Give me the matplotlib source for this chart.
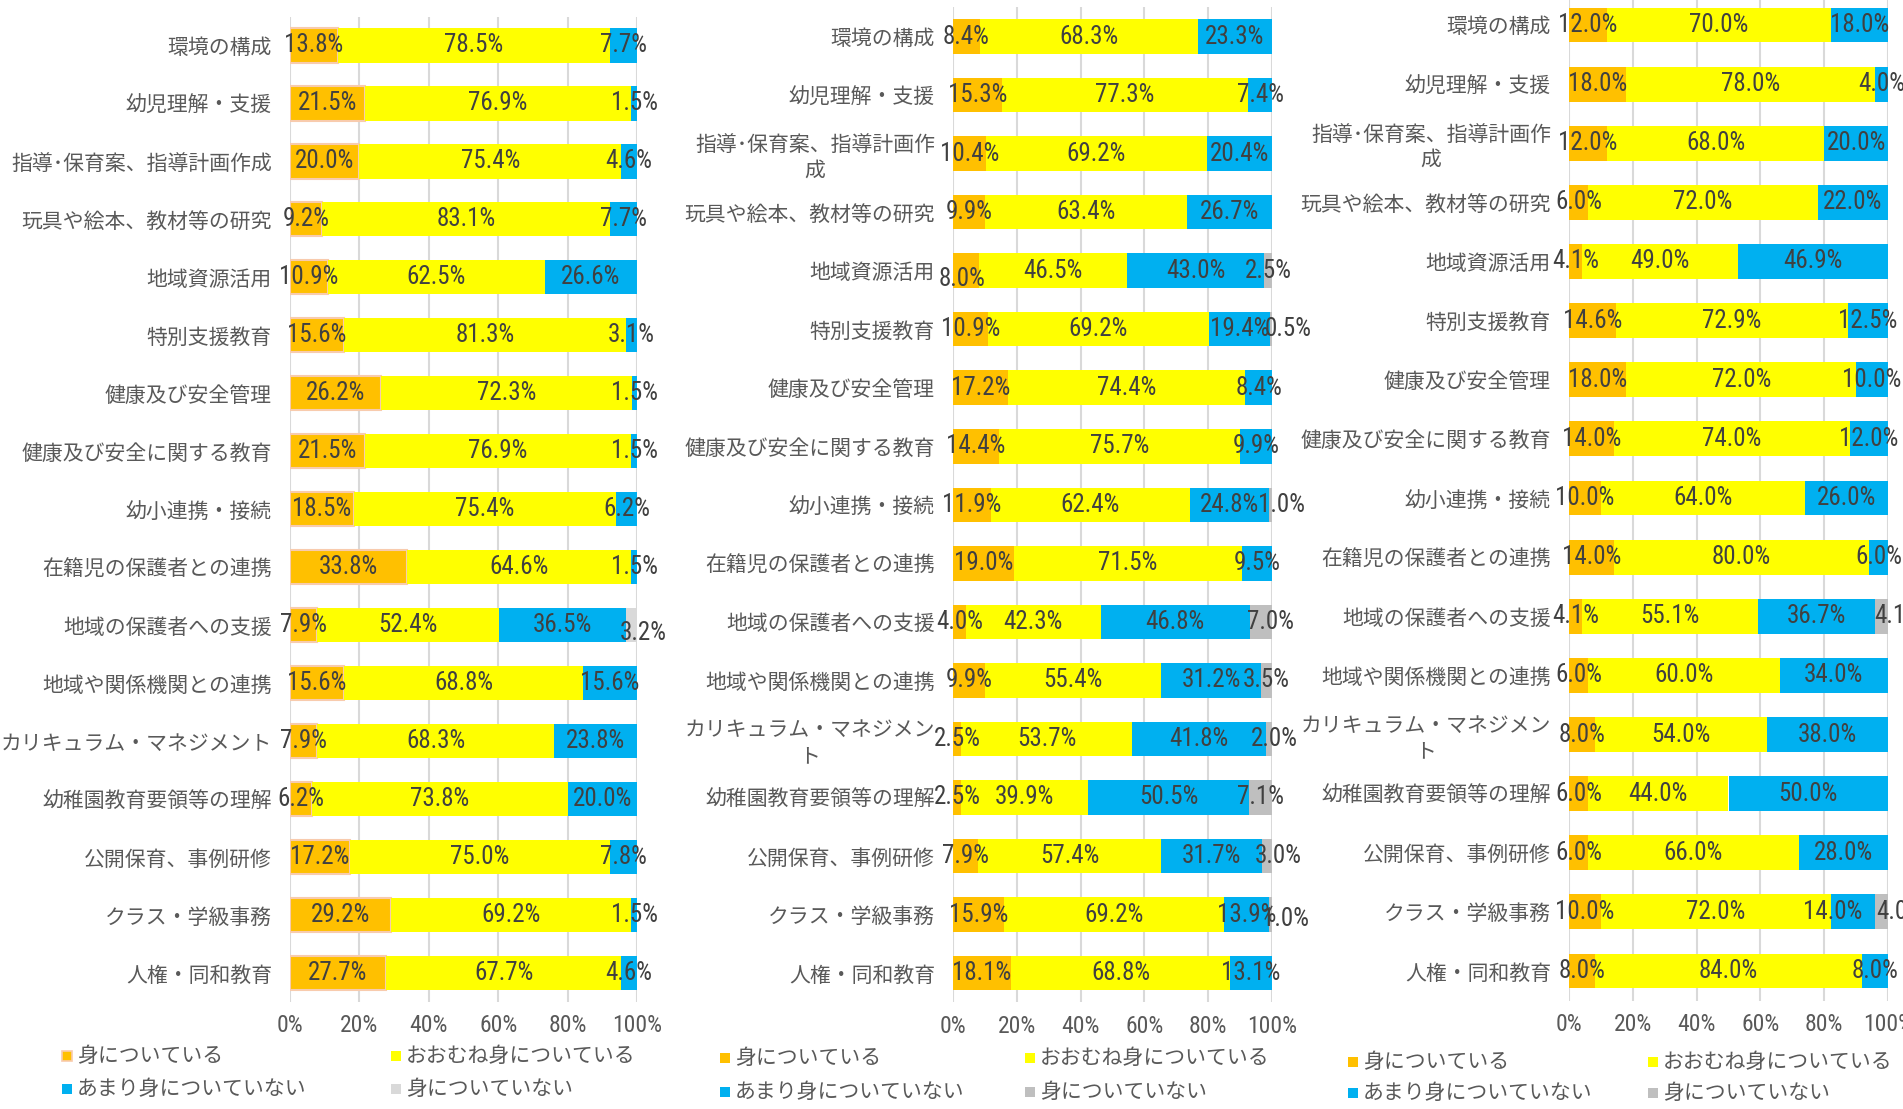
import matplotlib
matplotlib.use("Agg")
import matplotlib.pyplot as plt
from matplotlib import font_manager
from matplotlib.patches import Rectangle

plt.rcParams['font.family'] = ['Noto Sans CJK JP', 'DejaVu Sans']

# categories (panel 1 on one line, panels 2/3 wrap two long labels)
categories = ['環境の構成', '幼児理解・支援', '指導･保育案、指導計画作成', '玩具や絵本、教材等の研究',
              '地域資源活用', '特別支援教育', '健康及び安全管理', '健康及び安全に関する教育',
              '幼小連携・接続', '在籍児の保護者との連携', '地域の保護者への支援', '地域や関係機関との連携',
              'カリキュラム・マネジメント', '幼稚園教育要領等の理解', '公開保育、事例研修',
              'クラス・学級事務', '人権・同和教育']
categories_wrapped = [c.replace('指導計画作成', '指導計画作\n成').replace('マネジメント', 'マネジメン\nト')
                      for c in categories]
series_names = ['身についている', 'おおむね身についている', 'あまり身についていない', '身についていない']

# panel 1
p1_good = [13.8, 21.5, 20.0, 9.2, 10.9, 15.6, 26.2, 21.5, 18.5, 33.8, 7.9, 15.6, 7.9, 6.2, 17.2, 29.2, 27.7]
p1_mostly = [78.5, 76.9, 75.4, 83.1, 62.5, 81.3, 72.3, 76.9, 75.4, 64.6, 52.4, 68.8, 68.3, 73.8, 75.0, 69.2, 67.7]
p1_little = [7.7, 1.5, 4.6, 7.7, 26.6, 3.1, 1.5, 1.5, 6.2, 1.5, 36.5, 15.6, 23.8, 20.0, 7.8, 1.5, 4.6]
p1_none = [0, 0, 0, 0, 0, 0, 0, 0, 0, 0, 3.2, 0, 0, 0, 0, 0, 0]

# panel 2
p2_good = [8.4, 15.3, 10.4, 9.9, 8.0, 10.9, 17.2, 14.4, 11.9, 19.0, 4.0, 9.9, 2.5, 2.5, 7.9, 15.9, 18.1]
p2_mostly = [68.3, 77.3, 69.2, 63.4, 46.5, 69.2, 74.4, 75.7, 62.4, 71.5, 42.3, 55.4, 53.7, 39.9, 57.4, 69.2, 68.8]
p2_little = [23.3, 7.4, 20.4, 26.7, 43.0, 19.4, 8.4, 9.9, 24.8, 9.5, 46.8, 31.2, 41.8, 50.5, 31.7, 13.9, 13.1]
p2_none = [0, 0, 0, 0, 2.5, 0.5, 0, 0, 1.0, 0, 7.0, 3.5, 2.0, 7.1, 3.0, 1.0, 0]

# panel 3
p3_good = [12.0, 18.0, 12.0, 6.0, 4.1, 14.6, 18.0, 14.0, 10.0, 14.0, 4.1, 6.0, 8.0, 6.0, 6.0, 10.0, 8.0]
p3_mostly = [70.0, 78.0, 68.0, 72.0, 49.0, 72.9, 72.0, 74.0, 64.0, 80.0, 55.1, 60.0, 54.0, 44.0, 66.0, 72.0, 84.0]
p3_little = [18.0, 4.0, 20.0, 22.0, 46.9, 12.5, 10.0, 12.0, 26.0, 6.0, 36.7, 34.0, 38.0, 50.0, 28.0, 14.0, 8.0]
p3_none = [0, 0, 0, 0, 0, 0, 0, 0, 0, 0, 4.1, 0, 0, 0, 0, 4.0, 0]

W, H = 1903, 1109
fig = plt.figure(figsize=(W / 100, H / 100), dpi=100)

# narrow font for the numbers, whichever is installed
fonts = font_manager.fontManager.ttflist
names = {f.name for f in fonts}
if 'Liberation Sans Narrow' in names:
    num_font, tick_size = dict(family='Liberation Sans Narrow', size=17), 17
elif 'Roboto Condensed' in names:
    num_font, tick_size = dict(family='Roboto Condensed', size=18), 17
elif any(f.name == 'DejaVu Sans' and f.stretch == 'condensed' for f in fonts):
    num_font, tick_size = dict(family='DejaVu Sans', stretch='condensed', size=15), 15
else:
    num_font, tick_size = dict(family='DejaVu Sans', size=14), 14

TXT = '#404040'
AX_TXT = '#595959'


def px_axes(left, top, right, bottom):
    return fig.add_axes([left / W, 1 - bottom / H, (right - left) / W, (bottom - top) / H])


panels = [
    dict(box=(290, 16.5, 637, 1002), cats=categories,
         data=[p1_good, p1_mostly, p1_little, p1_none],
         colors=['#FFC000', '#FFFF00', '#00B0F0', '#D9D9D9'], good_edge='#F8CBAD',
         legend=(67, 396, 1056, 1089), offsets={(10, 3): (12, 8)}),
    dict(box=(953, 7.3, 1272, 1002.3), cats=categories_wrapped,
         data=[p2_good, p2_mostly, p2_little, p2_none],
         colors=['#FFC000', '#FFFF00', '#00B0F0', '#BFBFBF'], good_edge=None,
         legend=(725, 1030, 1058, 1092),
         offsets={(4, 0): (-4, 8), (5, 3): (17, 0), (8, 3): (11, 0), (15, 3): (15, 4),
                  (14, 3): (11, 0), (10, 3): (9, 0), (12, 3): (6, 0)}),
    dict(box=(1569, -4.6, 1888, 1000.6), cats=categories_wrapped,
         data=[p3_good, p3_mostly, p3_little, p3_none],
         colors=['#FFC000', '#FFFF00', '#00B0F0', '#BFBFBF'], good_edge=None,
         legend=(1353, 1653, 1062, 1093),
         offsets={(15, 2): (-20, 0), (15, 3): (18, 0), (10, 3): (16, 0)}),
]

overlay = fig.add_axes([0, 0, 1, 1], zorder=-1)
overlay.set_xlim(0, W)
overlay.set_ylim(H, 0)
overlay.axis('off')

for p in panels:
    ax = px_axes(*p['box'])
    ypos = list(range(len(p['cats'])))
    lefts = [0.0] * len(ypos)
    for k, (vals, col) in enumerate(zip(p['data'], p['colors'])):
        edge = p['good_edge'] if (k == 0 and p['good_edge']) else 'none'
        ax.barh(ypos, vals, left=lefts, height=0.59, color=col,
                edgecolor=edge, linewidth=1.5 if edge != 'none' else 0, zorder=2)
        for i, v in enumerate(vals):
            if v > 0:
                dx, dy = p['offsets'].get((i, k), (0, 0))
                ax.annotate(f'{v:.1f}%', xy=(lefts[i] + v / 2, i),
                            xytext=(dx * 0.72, -dy * 0.72), textcoords='offset points',
                            ha='center', va='center', color=TXT, zorder=3,
                            annotation_clip=False, **num_font)
        lefts = [a + b for a, b in zip(lefts, vals)]

    ax.set_xlim(0, 100)
    ax.set_ylim(len(ypos) - 0.5, -0.5)
    ax.set_xticks([0, 20, 40, 60, 80, 100])
    ax.set_xticklabels(['0%', '20%', '40%', '60%', '80%', '100%'], color=AX_TXT,
                       **dict(num_font, size=tick_size))
    ax.set_yticks(ypos)
    ax.set_yticklabels(p['cats'], fontsize=15, color=AX_TXT)
    for lab in ax.get_yticklabels():
        lab.set_multialignment('center')
    ax.tick_params(axis='both', length=0)
    ax.tick_params(axis='y', pad=13)
    ax.tick_params(axis='x', pad=9)
    ax.xaxis.grid(True, color='#D9D9D9', linewidth=1.5, zorder=0)
    ax.set_axisbelow(True)
    for s in ax.spines.values():
        s.set_visible(False)
    ax.patch.set_alpha(0)

    # legend, two rows by two columns
    x1, x2, y1, y2 = p['legend']
    spots = [(x1, y1), (x2, y1), (x1, y2), (x2, y2)]
    for k, (mx, my) in enumerate(spots):
        edge = p['good_edge'] if (k == 0 and p['good_edge']) else 'none'
        overlay.add_patch(Rectangle((mx - 5, my - 5), 10, 10, facecolor=p['colors'][k],
                                    edgecolor=edge, linewidth=1.2 if edge != 'none' else 0))
        overlay.text(mx + 10, my, series_names[k], fontsize=15, color=AX_TXT,
                     ha='left', va='center')

fig.savefig('out.png', dpi=100)
